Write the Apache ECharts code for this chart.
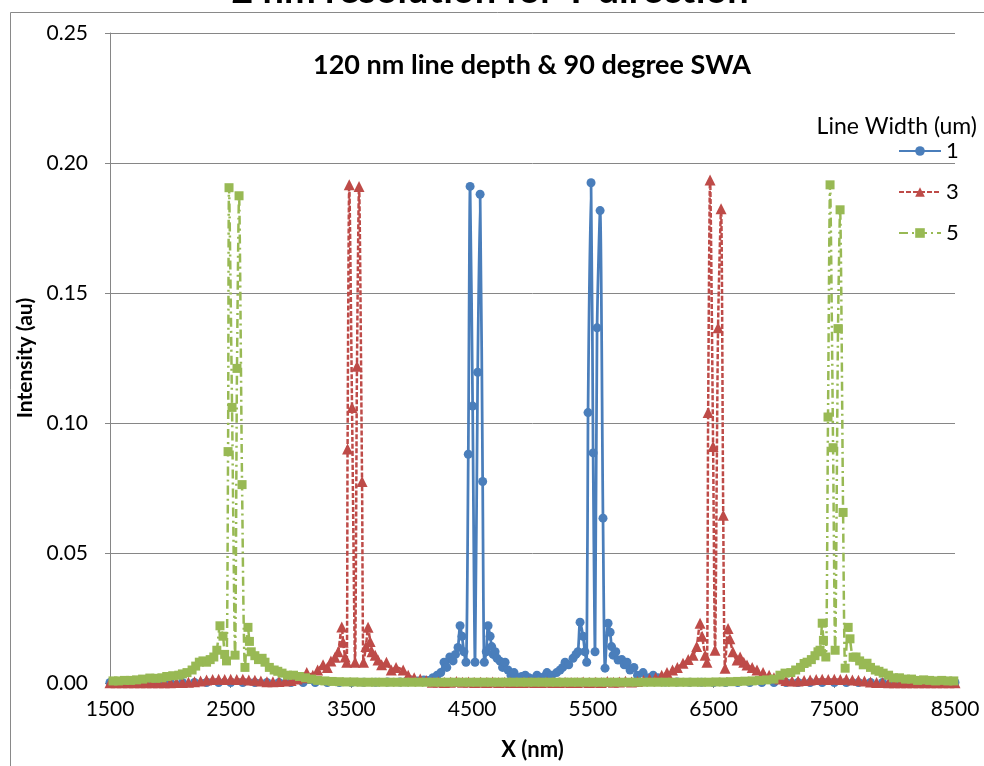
<!DOCTYPE html>
<html>
<head>
<meta charset="utf-8">
<script src="https://cdn.jsdelivr.net/npm/echarts@6/dist/echarts.min.js"></script>
<style>
html,body{margin:0;padding:0;background:#fff;overflow:hidden;width:984px;height:766px;}
#chart{position:absolute;left:0;top:0;width:984px;height:766px;}
</style>
</head>
<body>
<div id="chart"></div>
<script>
// ---- data ----
var seriesNames = ['1', '3', '5'];
var xTicksMin = 1500, xTicksMax = 8500;

// Line width 1 um
var xW1 = [1500,1600,1700,1800,1900,2000,2100,2200,2300,2400,2500,2600,2700,2800,2900,3000,3100,3200,3300,3400,3500,3600,3700,3800,3900,
  3950,4000,4050,4100,4135,4175,4210,4240,4267,4290,4315,4342,4362,4383,4400,4416,4432,4449,4468,4483,4504,4524,4546,4566,4587,4601,4617,4632,4649,4662,4674,4690,4706,4731,4752,4773,4797,4822,4847,4880,4910,4940,4970,5000,5037,5070,5100,5120,5160,5200,5228,5250,5270,5300,5336,5360,5377,5394,5419,5434,5449,5460,5485,5502,5518,5535,5560,5584,5601,5626,5643,5655,5668,5690,5709,5740,5760,5783,5808,5840,5870,5916,5960,6000,6040,6080,
  6100,6200,6300,6400,6500,6600,6700,6800,6900,7000,7100,7200,7300,7400,7500,7600,7700,7800,7900,8000,8100,8200,8300,8400,8500];
var yW1 = [0.0002,0.0002,0.0002,0.0002,0.0002,0.0002,0.0002,0.0002,0.0002,0.0002,0.0002,0.0002,0.0002,0.0002,0.0002,0.0002,0.0002,0.0002,0.0002,0.0002,0.0002,0.0003,0.0003,0.0004,0.0004,
  0.0005,0.001,0.0008,0.0012,0.001,0.002,0.003,0.004,0.008,0.006,0.010,0.0085,0.011,0.0137,0.022,0.018,0.012,0.008,0.088,0.191,0.1065,0.008,0.1195,0.188,0.0775,0.008,0.012,0.022,0.018,0.014,0.011,0.012,0.0095,0.0084,0.006,0.008,0.005,0.003,0.004,0.002,0.0025,0.003,0.002,0.0015,0.003,0.002,0.0025,0.004,0.003,0.004,0.005,0.006,0.008,0.007,0.0095,0.011,0.012,0.0234,0.018,0.012,0.008,0.104,0.1924,0.0885,0.012,0.1366,0.1817,0.0634,0.0057,0.023,0.0195,0.014,0.0107,0.012,0.0088,0.009,0.007,0.008,0.005,0.006,0.003,0.004,0.002,0.003,0.002,0.001,
  0.0004,0.0004,0.0003,0.0003,0.0002,0.0002,0.0002,0.0002,0.0002,0.0002,0.0002,0.0002,0.0002,0.0002,0.0002,0.0002,0.0002,0.0002,0.0002,0.0002,0.0002,0.0002,0.0002,0.0002,0.0002];

// Line width 3 um
var xW3 = [1500,1550,1600,1650,1700,1750,1800,1850,1900,1950,2000,2050,2100,2150,2200,
  2250,2300,2350,2400,2450,2500,2550,2600,2650,2700,2750,2800,2850,2900,2950,3000,3050,3100,3130,3180,3220,3265,3300,3330,3364,3390,3420,3431,3448,3461,3468,3482,3505,3530,3546,3563,3588,3600,3620,3638,3655,3670,3697,3720,3750,3790,3830,3870,3929,3970,4020,4070,4120,
  4170,4220,4270,4320,4370,4420,4470,4520,4570,4620,4670,4720,4770,4820,4870,4920,4970,5020,5070,5120,5170,5220,5270,5320,5370,5420,5470,5520,5570,5620,5670,5720,5770,5820,5870,
  5920,5970,6020,6070,6114,6160,6200,6247,6290,6330,6360,6388,6405,6430,6445,6455,6471,6496,6512,6537,6562,6580,6595,6620,6635,6660,6695,6720,6750,6777,6820,6860,6910,6960,7000,7050,7100,7150,7200,7250,7300,7350,7400,7450,7500,7550,7600,7650,7700,7750,
  7800,7850,7900,7950,8000,8050,8100,8150,8200,8250,8300,8350,8400,8450,8500];
var yW3 = [0.0001,0.0001,0.0001,0.0001,0.0001,0.0001,0.0001,0.0001,0.0001,0.0001,0.0001,0.0002,0.0002,0.0003,0.0005,
  0.0008,0.0012,0.0013,0.0014,0.0013,0.0014,0.0013,0.0014,0.0012,0.0011,0.0008,0.0005,0.0005,0.0006,0.0008,0.001,0.0015,0.002,0.004,0.003,0.005,0.007,0.006,0.0085,0.0099,0.012,0.0215,0.0157,0.010,0.008,0.09,0.1916,0.106,0.008,0.1218,0.191,0.0775,0.008,0.014,0.0214,0.016,0.012,0.0107,0.0088,0.007,0.008,0.005,0.006,0.005,0.003,0.002,0.0015,0.001,
  0.0003,0.0004,0.0002,0.0003,0.0006,0.0003,0.0004,0.0002,0.0003,0.0002,0.0004,0.0002,0.0003,0.0002,0.0002,0.0002,0.0003,0.0002,0.0002,0.0003,0.0002,0.0002,0.0003,0.0002,0.0002,0.0004,0.0002,0.0003,0.0002,0.0006,0.0003,0.0004,0.0007,0.0004,0.0006,
  0.001,0.0015,0.002,0.003,0.004,0.005,0.006,0.0076,0.009,0.0107,0.014,0.023,0.018,0.0107,0.008,0.104,0.1935,0.091,0.0126,0.1366,0.1824,0.0645,0.0057,0.021,0.017,0.012,0.0088,0.010,0.008,0.0069,0.006,0.005,0.004,0.003,0.002,0.0015,0.001,0.0008,0.0008,0.001,0.0012,0.0013,0.0014,0.0013,0.0014,0.0013,0.0014,0.0012,0.0011,0.0008,
  0.0004,0.0002,0.0002,0.0001,0.0001,0.0001,0.0001,0.0001,0.0001,0.0001,0.0001,0.0001,0.0001,0.0001,0.0001];

// Line width 5 um
var xW5 = [1525,1570,1620,1670,1720,1770,1830,1880,1930,1970,2020,2070,2100,2138,2180,2210,2240,2270,2300,2330,2360,2385,2411,2436,2450,2465,2478,2486,2511,2536,2552,2569,2594,2618,2643,2655,2670,2700,2730,2760,2784,2820,2860,2890,2925,2970,3020,3070,3120,3170,
  3220,3280,3340,3400,3460,3520,3580,3640,3700,3760,3820,3880,3940,4000,4060,4120,4180,4240,4300,4360,4420,4480,4540,4600,4660,4720,4780,4840,4900,4960,5020,5080,5140,5200,5260,5320,5380,5440,5500,5560,5620,5680,5740,5800,5860,5920,5980,6040,6100,6160,6220,6280,6340,6400,6460,6520,6580,6640,6700,6760,6820,6880,6940,
  7000,7050,7092,7140,7180,7220,7250,7275,7310,7340,7365,7382,7400,7410,7430,7448,7465,7490,7507,7531,7548,7573,7590,7615,7630,7656,7680,7710,7740,7771,7800,7840,7870,7905,7950,7990,8040,8090,8140,8190,8240,8290,8340,8390,8440,8490];
var yW5 = [0.0008,0.0008,0.001,0.001,0.0012,0.0015,0.0019,0.0018,0.002,0.0025,0.0028,0.003,0.0035,0.004,0.005,0.0065,0.008,0.0085,0.008,0.009,0.010,0.0126,0.022,0.018,0.011,0.0085,0.089,0.1905,0.106,0.0107,0.121,0.1874,0.0763,0.006,0.0214,0.016,0.012,0.0105,0.009,0.0095,0.008,0.006,0.005,0.0045,0.0038,0.003,0.003,0.0025,0.002,0.0015,
  0.001,0.0008,0.0006,0.0005,0.0004,0.0004,0.0003,0.0003,0.0003,0.0003,0.0003,0.0003,0.0003,0.0003,0.0003,0.0003,0.0003,0.0003,0.0003,0.0003,0.0003,0.0003,0.0003,0.0003,0.0003,0.0003,0.0003,0.0003,0.0003,0.0003,0.0003,0.0003,0.0003,0.0003,0.0003,0.0003,0.0003,0.0003,0.0003,0.0003,0.0003,0.0003,0.0003,0.0003,0.0003,0.0003,0.0003,0.0003,0.0003,0.0003,0.0003,0.0003,0.0003,0.0003,0.0003,0.0004,0.0004,0.0005,0.0006,0.0007,0.0008,0.001,0.0012,
  0.0015,0.003,0.0038,0.004,0.005,0.006,0.0075,0.008,0.009,0.0105,0.012,0.0126,0.023,0.0164,0.010,0.1023,0.1916,0.0905,0.0126,0.1363,0.182,0.0656,0.0057,0.0214,0.017,0.0099,0.010,0.0085,0.007,0.0076,0.006,0.005,0.0045,0.0038,0.003,0.002,0.002,0.0015,0.0015,0.001,0.0012,0.001,0.0008,0.001,0.0008,0.0008];

var yTickLabels = ['0.00','0.05','0.10','0.15','0.20','0.25'];

function pairs(xs, ys){ var out=[]; for(var i=0;i<xs.length;i++){ out.push([xs[i], ys[i]]); } return out; }

var FONT = 'Lato';
var chart = echarts.init(document.getElementById('chart'), null, {renderer:'canvas', width:984, height:766});
var option = {
  animation: false,
  backgroundColor: '#ffffff',
  grid: {left:110, right:29, top:33, bottom:77, containLabel:false},
  xAxis: {
    type:'value', min:xTicksMin, max:xTicksMax, interval:1000,
    name:'X (nm)', nameLocation:'middle', nameGap:56,
    nameTextStyle:{fontFamily:FONT, fontWeight:'bold', fontSize:22, color:'#000'},
    axisLine:{show:true, lineStyle:{color:'#868686', width:1}},
    axisTick:{show:true, length:5, lineStyle:{color:'#868686'}},
    axisLabel:{fontFamily:FONT, fontSize:21, color:'#000', margin:16,
      formatter:function(v){ return String(Math.round(v)); }},
    splitLine:{show:false}
  },
  yAxis: {
    type:'value', min:0, max:0.25, interval:0.05,
    name:'Intensity (au)', nameLocation:'middle', nameGap:74, nameRotate:90,
    nameTextStyle:{fontFamily:FONT, fontWeight:'bold', fontSize:21, color:'#000'},
    axisLine:{show:true, lineStyle:{color:'#868686', width:1}},
    axisTick:{show:true, length:5, lineStyle:{color:'#868686'}},
    axisLabel:{fontFamily:FONT, fontSize:21, color:'#000', margin:22,
      formatter:function(v){ return yTickLabels[Math.round(v/0.05)]; }},
    splitLine:{show:true, lineStyle:{color:'#868686', width:1}}
  },
  legend: {
    orient:'vertical', left:893, top:135, itemWidth:42, itemHeight:12, itemGap:19,
    textStyle:{fontFamily:FONT, fontSize:22, color:'#000'},
    data: seriesNames
  },
  graphic: [
    {type:'rect', silent:true, shape:{x:10.5, y:12.5, width:1000, height:800}, style:{fill:'none', stroke:'#898989', lineWidth:1}},
    {type:'text', x:490, y:10, style:{text:'2 nm resolution for Y direction', font:'bold 38px Lato', fill:'#000', textAlign:'center', textVerticalAlign:'bottom'}},
    {type:'text', x:532, y:65, style:{text:'120 nm line depth & 90 degree SWA', font:'bold 27px Lato', fill:'#000', textAlign:'center', textVerticalAlign:'middle'}},
    {type:'text', x:977, y:127, style:{text:'Line Width (um)', font:'23px Lato', fill:'#000', textAlign:'right', textVerticalAlign:'middle'}}
  ],
  series: [
    {name:seriesNames[0], type:'line', data:pairs(xW1,yW1), smooth:0.25,
      symbol:'circle', symbolSize:9, showAllSymbol:true,
      lineStyle:{color:'#4A7EBB', width:2.75, type:'solid'}, itemStyle:{color:'#4A7EBB'}},
    {name:seriesNames[1], type:'line', data:pairs(xW3,yW3), smooth:0.25,
      symbol:'triangle', symbolSize:11, showAllSymbol:true,
      lineStyle:{color:'#BE4B48', width:2.5, type:[5,2]}, itemStyle:{color:'#BE4B48'}},
    {name:seriesNames[2], type:'line', data:pairs(xW5,yW5), smooth:0.25,
      symbol:'rect', symbolSize:9, showAllSymbol:true,
      lineStyle:{color:'#98B954', width:2.5, type:[9,4,2,4]}, itemStyle:{color:'#98B954'}}
  ]
};
chart.setOption(option);
</script>
</body>
</html>
